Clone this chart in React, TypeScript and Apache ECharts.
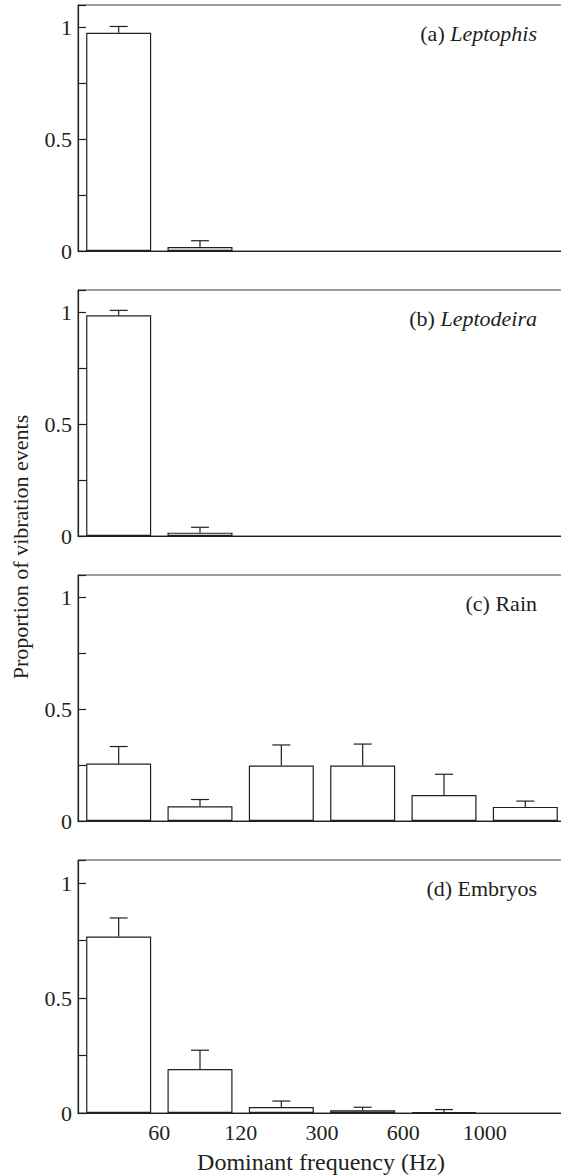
import React, { useEffect, useRef } from "react";
import * as echarts from "echarts";

// Frequency bin boundaries (Hz) shown on the x axis
const freqTicks = ["60", "120", "300", "600", "1000"];
// Bin centres on a 0..6 value axis (6 frequency bins)
const binPos = [0.5, 1.5, 2.5, 3.5, 4.5, 5.5];

const leptophisMean = [0.976, 0.018, 0, 0, 0, 0];
const leptophisErr = [0.028, 0.028, 0, 0, 0, 0];
const leptodeiraMean = [0.987, 0.015, 0, 0, 0, 0];
const leptodeiraErr = [0.022, 0.024, 0, 0, 0, 0];
const rainMean = [0.257, 0.066, 0.248, 0.248, 0.116, 0.063];
const rainErr = [0.076, 0.03, 0.092, 0.096, 0.093, 0.026];
const embryoMean = [0.767, 0.191, 0.026, 0.012, 0.004, 0];
const embryoErr = [0.081, 0.082, 0.026, 0.013, 0.011, 0];

const panelLetters = ["(a) ", "(b) ", "(c) ", "(d) "];
const panelNames = ["Leptophis", "Leptodeira", "Rain", "Embryos"];
const panelItalic = [true, true, false, false];

const yTitle = "Proportion of vibration events";
const xTitle = "Dominant frequency (Hz)";

const FONT = "Liberation Serif, serif";
const INK = "#231f20";

export default function App() {
  const ref = useRef<HTMLDivElement>(null);

  useEffect(() => {
    if (!ref.current) return;
    const chart = echarts.init(ref.current, undefined, { renderer: "svg" });

    const means = [leptophisMean, leptodeiraMean, rainMean, embryoMean];
    const errs = [leptophisErr, leptodeiraErr, rainErr, embryoErr];
    const tops = [5, 290, 575, 860];
    const heights = [246, 246, 246, 253];
    const gridLeft = 78;
    const gridWidth = 488;

    const grid = tops.map((t, i) => ({
      left: gridLeft,
      width: gridWidth,
      top: t,
      height: heights[i],
      outerBoundsMode: "none",
      containLabel: false,
      show: true,
      borderColor: "#3a3a3a",
      borderWidth: 1,
      backgroundColor: "transparent",
    }));

    const xAxis = tops.map((_, i) => ({
      gridIndex: i,
      type: "value",
      min: 0,
      max: 6,
      interval: 1,
      axisLine: { show: true, onZero: false, lineStyle: { color: INK, width: 1.2 } },
      axisTick: { show: false },
      splitLine: { show: false },
      axisLabel: {
        show: i === 3,
        margin: 8,
        fontSize: 22,
        fontFamily: FONT,
        color: INK,
        formatter: (v: number) => {
          const k = Math.round(v);
          return k >= 1 && k <= freqTicks.length ? freqTicks[k - 1] : "";
        },
      },
    }));

    const yAxis = tops.map((_, i) => ({
      gridIndex: i,
      type: "value",
      min: 0,
      max: 1.1,
      interval: 0.25,
      axisLine: { show: true, onZero: false, lineStyle: { color: INK, width: 1.2 } },
      axisTick: { show: true, inside: true, length: 8, lineStyle: { color: INK, width: 1.2 } },
      splitLine: { show: false },
      axisLabel: {
        margin: 6,
        fontSize: 22,
        fontFamily: FONT,
        color: INK,
        formatter: (v: number) => {
          if (Math.abs(v) < 1e-9) return "0";
          if (Math.abs(v - 0.5) < 1e-9) return "0.5";
          if (Math.abs(v - 1) < 1e-9) return "1";
          return "";
        },
      },
    }));

    const series: any[] = [];
    means.forEach((m, i) => {
      series.push({
        type: "bar",
        xAxisIndex: i,
        yAxisIndex: i,
        barWidth: 65,
        data: binPos.map((x, j) => (m[j] > 0 ? [x, m[j]] : [x, "-"])),
        itemStyle: { color: "#ffffff", borderColor: INK, borderWidth: 1.2 },
        z: 2,
      });
      series.push({
        type: "custom",
        xAxisIndex: i,
        yAxisIndex: i,
        encode: { x: 0, y: 1 },
        data: binPos.map((x, j) => [x, m[j], errs[i][j]]),
        z: 3,
        renderItem: (_p: any, api: any) => {
          const x = api.value(0);
          const mv = api.value(1);
          const e = api.value(2);
          if (!e) return null;
          const p0 = api.coord([x, mv]);
          const p1 = api.coord([x, mv + e]);
          const st = { stroke: INK, lineWidth: 1.2 };
          return {
            type: "group",
            children: [
              { type: "line", shape: { x1: p0[0], y1: p0[1], x2: p1[0], y2: p1[1] }, style: st },
              { type: "line", shape: { x1: p1[0] - 9, y1: p1[1], x2: p1[0] + 9, y2: p1[1] }, style: st },
            ],
          };
        },
      });
    });

    const graphic: any[] = tops.map((t, i) => ({
      type: "text",
      x: 537,
      y: t + 28,
      style: {
        text: `{n|${panelLetters[i]}}{${panelItalic[i] ? "it" : "n"}|${panelNames[i]}}`,
        align: "right",
        verticalAlign: "middle",
        rich: {
          n: { fontSize: 22, fontFamily: FONT, fill: INK, color: INK },
          it: { fontSize: 22, fontFamily: FONT, fontStyle: "italic", fill: INK, color: INK },
        },
      },
    }));
    graphic.push({
      type: "text",
      x: 20,
      y: 547,
      rotation: Math.PI / 2,
      style: {
        text: yTitle,
        align: "center",
        verticalAlign: "middle",
        fontSize: 22,
        fontFamily: FONT,
        fill: INK,
      },
    });
    graphic.push({
      type: "text",
      x: 321,
      y: 1162,
      style: {
        text: xTitle,
        align: "center",
        verticalAlign: "middle",
        fontSize: 24,
        fontFamily: FONT,
        fill: INK,
      },
    });

    chart.setOption({
      animation: false,
      backgroundColor: "#ffffff",
      grid,
      xAxis,
      yAxis,
      series,
      graphic,
    });

    return () => chart.dispose();
  }, []);

  return (
    <div
      ref={ref}
      style={{ position: "absolute", left: 0, top: 0, width: 561, height: 1176 }}
    />
  );
}
